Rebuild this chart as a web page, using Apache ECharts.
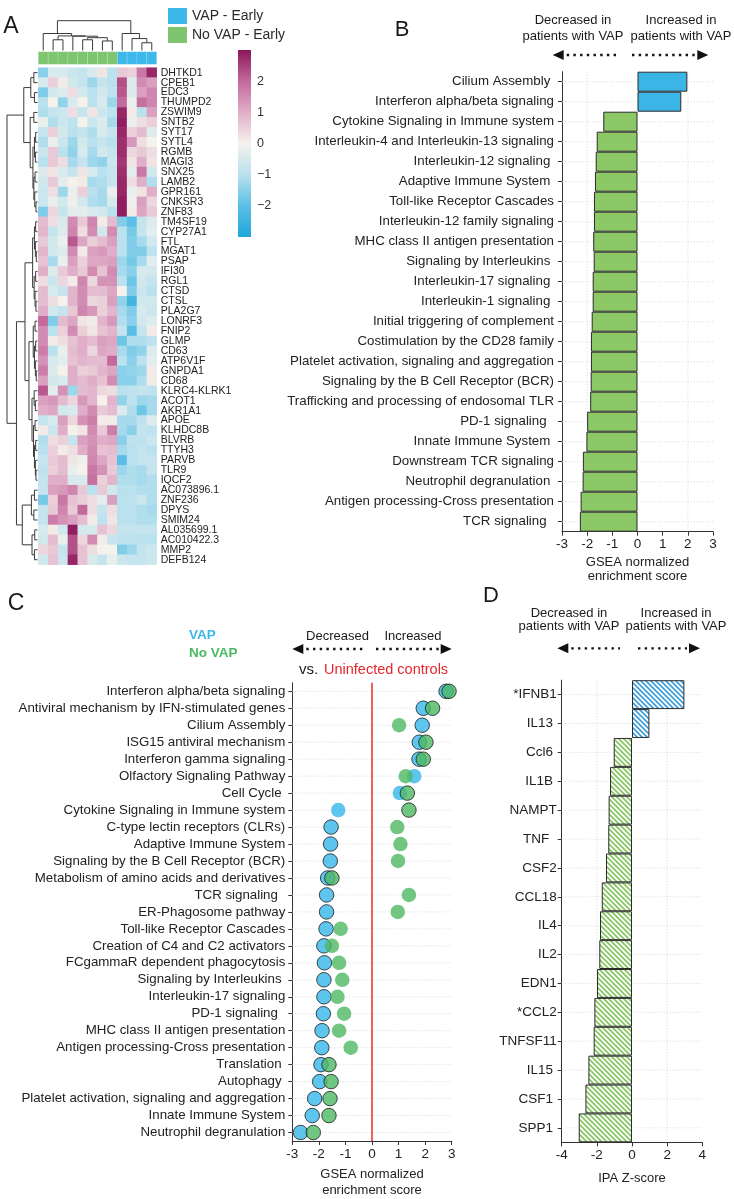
<!DOCTYPE html>
<html>
<head>
<meta charset="utf-8">
<title>VAP figure</title>
<script src="https://cdn.jsdelivr.net/npm/echarts@6/dist/echarts.min.js"></script>
<style>
html,body{margin:0;padding:0;background:#ffffff;}
#chart{width:734px;height:1199px;}
</style>
</head>
<body>
<div id="chart"></div>
<script>
// ================= Panel A: heatmap =================
const genes = ['DHTKD1','CPEB1','EDC3','THUMPD2','ZSWIM9','SNTB2','SYT17','SYTL4','RGMB','MAGI3','SNX25','LAMB2','GPR161','CNKSR3','ZNF83',
  'TM4SF19','CYP27A1','FTL','MGAT1','PSAP','IFI30','RGL1','CTSD','CTSL','PLA2G7','LONRF3','FNIP2','GLMP','CD63','ATP6V1F','GNPDA1','CD68',
  'KLRC4-KLRK1','ACOT1','AKR1A1','APOE','KLHDC8B','BLVRB','TTYH3','PARVB','TLR9','IQCF2',
  'AC073896.1','ZNF236','DPYS','SMIM24','AL035699.1','AC010422.3','MMP2','DEFB124'];
const samples = ['NV1','NV2','NV3','NV4','NV5','NV6','NV7','NV8','V1','V2','V3','V4'];
const sampleGroups = ['No VAP - Early','No VAP - Early','No VAP - Early','No VAP - Early','No VAP - Early','No VAP - Early','No VAP - Early','No VAP - Early',
  'VAP - Early','VAP - Early','VAP - Early','VAP - Early'];
const expression = [
  [-1.5,-0.5,-0.5,-0.7,-0.8,-0.5,0.2,-1.0,0.6,0.5,1.8,2.8],
  [-0.5,0.5,0.1,-0.6,-0.8,-1.3,-0.8,-1.0,2.3,-0.4,1.5,1.2],
  [-1.6,-0.6,-0.4,0.3,-0.6,-1.0,-0.6,-0.9,2.2,-0.4,1.2,1.6],
  [-1.0,0.0,-1.4,-0.5,0.0,-1.0,-0.5,-1.3,2.0,-0.2,1.9,1.6],
  [-1.1,-0.8,-0.7,0.3,-0.8,0.2,-0.7,-0.9,2.8,0.1,-1.0,1.2],
  [-0.2,-1.1,-0.7,-0.9,0.0,-0.7,-0.4,-1.2,2.9,-0.2,0.3,0.5],
  [-0.8,0.5,-0.6,-1.0,-0.8,-1.1,-0.5,-0.8,2.8,0.5,0.8,-0.4],
  [-1.1,-0.2,-0.7,-1.3,-0.6,-1.0,-0.8,-1.0,2.7,1.3,0.3,0.0],
  [-0.7,0.6,-1.0,-1.4,-0.5,-1.2,-0.6,-0.8,2.7,0.4,0.6,0.3],
  [-1.0,0.6,0.3,-1.2,-0.8,-1.3,-1.4,-0.7,2.6,0.2,1.0,0.2],
  [-0.4,0.2,-0.5,-0.8,0.2,-0.5,-1.0,-0.8,2.7,-0.3,1.8,-0.6],
  [-0.6,0.6,-0.3,0.0,0.1,-1.2,-1.1,-0.8,2.8,0.3,1.0,-1.1],
  [-0.7,0.3,-1.3,-0.2,0.5,-1.0,-1.2,-0.2,2.8,-0.2,0.2,1.0],
  [-0.7,-0.2,-0.6,-0.1,-0.6,-1.1,-1.2,-0.5,2.9,-0.1,1.2,0.4],
  [-1.6,0.4,-0.8,-0.3,-0.3,-0.5,-0.6,-1.0,2.9,0.1,1.1,0.6],
  [0.8,0.3,-0.5,1.5,0.6,1.6,0.1,0.8,-1.6,-2.0,-0.8,-0.4],
  [0.9,-0.8,-0.4,1.6,0.3,1.5,-0.6,1.5,-1.0,-1.7,-0.8,-0.3],
  [0.6,-0.6,-0.2,2.2,1.1,0.5,0.8,1.2,-1.0,-1.6,-1.2,-0.6],
  [0.9,-0.6,-0.4,1.5,0.1,1.2,1.3,1.0,-1.0,-1.6,-1.6,-0.9],
  [0.7,-1.2,-0.2,1.2,0.5,1.1,1.1,1.2,-1.3,-1.7,-1.2,-0.3],
  [1.0,-0.4,0.6,1.0,0.6,1.5,0.7,1.5,-1.2,-1.5,-0.5,-0.6],
  [0.3,-0.7,0.4,0.1,1.6,0.4,1.4,1.4,-1.0,-1.8,-0.6,-0.8],
  [0.8,-0.5,-0.8,0.9,1.5,0.8,0.8,1.1,0.0,-1.6,-0.7,-1.0],
  [0.8,0.3,0.0,0.9,1.5,0.4,0.5,1.2,-1.4,-2.4,-0.6,-0.6],
  [1.0,-0.6,-0.8,0.6,1.6,1.3,0.5,0.9,-1.2,-1.6,-0.5,-0.7],
  [2.0,-1.6,0.8,1.1,0.2,0.1,0.9,1.3,-1.1,-1.5,-0.6,-0.4],
  [1.5,-1.0,0.5,1.5,0.5,0.2,0.7,0.9,-0.8,-2.0,-0.8,0.1],
  [1.5,0.1,0.3,0.7,1.0,0.8,1.2,1.1,-1.8,-1.1,-1.1,-0.9],
  [1.7,-1.0,-0.2,0.8,1.0,0.4,1.1,1.0,-1.2,-1.6,-1.4,-0.4],
  [1.4,-0.5,-0.3,0.7,0.9,0.8,0.8,2.0,-1.0,-1.5,-1.0,-0.3],
  [1.7,-0.4,0.0,1.0,0.5,0.6,0.9,1.1,-1.5,-1.4,-1.3,0.1],
  [1.2,-0.6,-0.5,1.0,0.8,1.0,0.7,1.5,-1.5,-1.5,-1.1,0.1],
  [2.2,-0.3,1.4,-1.3,0.8,0.9,0.4,0.3,-1.0,-0.9,-0.8,-0.9],
  [1.2,1.3,0.8,0.4,1.3,0.9,0.0,0.9,-1.4,-0.9,-1.3,-1.2],
  [1.0,1.1,-0.6,-0.5,1.0,1.5,0.6,0.8,-0.4,-1.1,-1.8,-1.2],
  [-0.8,-0.5,1.2,0.4,1.4,1.7,0.1,0.1,-1.2,-1.2,-0.9,-0.4],
  [0.1,-0.7,1.0,0.0,0.2,1.5,0.6,1.7,-1.2,-1.5,-0.8,-0.9],
  [-1.1,0.3,0.5,-0.8,1.2,1.4,1.0,1.1,-1.5,-0.9,-0.9,-0.7],
  [-1.0,0.5,0.1,0.3,1.0,1.5,0.7,0.8,-1.2,-1.0,-0.8,-1.0],
  [-0.8,0.6,0.8,0.2,-0.1,1.6,1.1,0.7,-2.0,-1.0,-0.8,-0.8],
  [-0.9,0.5,0.8,-0.2,0.0,1.8,1.4,0.6,-1.3,-1.1,-1.2,-0.8],
  [-0.8,1.0,1.0,-0.5,-0.5,1.9,0.5,0.9,-1.1,-1.1,-1.2,-1.1],
  [-0.8,1.2,1.3,1.6,0.6,-1.0,0.6,-0.6,-1.0,-1.0,-1.1,-1.1],
  [-1.7,0.5,1.8,0.7,0.5,0.3,-0.3,1.2,-1.0,-0.9,-0.7,-1.1],
  [-0.8,0.6,1.6,0.6,2.0,0.3,-0.8,0.3,-1.0,-1.0,-1.1,-1.2],
  [-0.8,1.7,1.4,1.2,0.8,0.1,-0.9,0.2,-1.0,-1.0,-1.1,-1.1],
  [-0.5,0.1,-0.6,2.9,-0.6,-0.5,0.7,0.4,-0.8,-0.8,-0.8,-0.8],
  [-0.6,0.8,-0.2,2.3,0.4,1.5,0.1,-0.8,-0.9,-0.9,-1.0,-1.0],
  [0.4,0.6,-0.8,2.3,0.7,0.3,0.0,0.0,-1.6,-1.3,-0.8,-0.7],
  [-0.6,0.7,-0.7,2.8,0.7,-0.5,-0.8,-0.2,-0.7,-0.8,-0.8,-0.7]
];
// dendrograms: [mergeHeight, left, right]; integers are leaf indices
const columnTree = [1.0, [0.57, 0, [0.49, [0.36, 1, 2], [0.48, 3, [0.43, [0.36, 4, 5], [0.32, 6, 7]]]]], [0.57, 8, [0.40, 9, [0.26, 10, 11]]]];
const rowTree = [1.0,
  [0.45,
    [0.22, [0.12, 0, 1], [0.10, 2, 3]],
    [0.24, [0.12, 4, 5], [0.15, [0.10, [0.06, 6, 7], [0.07, 8, 9]], [0.12, [0.08, 10, 11], [0.09, 12, [0.05, 13, 14]]]]]],
  [0.69,
    [0.41,
      [0.16, [0.10, [0.06, 15, 16], [0.07, 17, [0.04, 18, 19]]], [0.11, [0.06, 20, 21], [0.08, 22, [0.05, 23, 24]]]],
      [0.28,
        [0.14, [0.08, 25, 26], [0.10, [0.06, 27, 28], [0.07, 29, [0.04, 30, 31]]]],
        [0.18, [0.11, 32, [0.07, 33, 34]], [0.13, [0.08, 35, 36], [0.10, [0.06, 37, 38], [0.07, 39, [0.05, 40, 41]]]]]]],
    [0.50, [0.20, [0.10, 42, 43], [0.12, 44, 45]], [0.18, [0.09, 46, 47], [0.10, 48, 49]]]]];
const colorbarTicks = [-2, -1, 0, 1, 2];

// ================= Panel B =================
const pathwaysB = ['Cilium Assembly ','Interferon alpha/beta signaling','Cytokine Signaling in Immune system','Interleukin-4 and Interleukin-13 signaling',
  'Interleukin-12 signaling ','Adaptive Immune System ','Toll-like Receptor Cascades','Interleukin-12 family signaling','MHC class II antigen presentation',
  'Signaling by Interleukins ','Interleukin-17 signaling ','Interleukin-1 signaling ','Initial triggering of complement','Costimulation by the CD28 family',
  'Platelet activation, signaling and aggregation','Signaling by the B Cell Receptor (BCR)','Trafficking and processing of endosomal TLR','PD-1 signaling  ',
  'Innate Immune System ','Downstream TCR signaling','Neutrophil degranulation ','Antigen processing-Cross presentation','TCR signaling  '];
const nesB = [1.98, 1.74, -1.36, -1.62, -1.66, -1.69, -1.73, -1.73, -1.76, -1.74, -1.78, -1.78, -1.82, -1.85, -1.85, -1.86, -1.88, -2.0, -2.03, -2.17, -2.18, -2.26, -2.29];

// ================= Panel C =================
const pathwaysC = ['Interferon alpha/beta signaling','Antiviral mechanism by IFN-stimulated genes','Cilium Assembly','ISG15 antiviral mechanism',
  'Interferon gamma signaling','Olfactory Signaling Pathway','Cell Cycle ','Cytokine Signaling in Immune system','C-type lectin receptors (CLRs)',
  'Adaptive Immune System','Signaling by the B Cell Receptor (BCR)','Metabolism of amino acids and derivatives','TCR signaling  ','ER-Phagosome pathway',
  'Toll-like Receptor Cascades','Creation of C4 and C2 activators','FCgammaR dependent phagocytosis','Signaling by Interleukins ','Interleukin-17 signaling',
  'PD-1 signaling  ','MHC class II antigen presentation','Antigen processing-Cross presentation','Translation ','Autophagy ',
  'Platelet activation, signaling and aggregation','Innate Immune System','Neutrophil degranulation'];
const nesVAP =   [2.79, 1.93, 1.89, 1.78, 1.77, 1.59, 1.05, -1.27, -1.54, -1.56, -1.57, -1.67, -1.71, -1.71, -1.73, -1.81, -1.79, -1.81, -1.81, -1.83, -1.88, -1.89, -1.92, -1.97, -2.16, -2.25, -2.69];
const nesNoVAP = [2.90, 2.28, 1.02, 2.03, 1.93, 1.27, 1.33, 1.39, 0.95, 1.07, 0.98, -1.51, 1.39, 0.97, -1.18, -1.51, -1.24, -1.12, -1.30, -1.05, -1.24, -0.80, -1.62, -1.54, -1.58, -1.62, -2.21];
const significantVAP =   [1,1,1,1,1,0,0,0,1,1,1,1,1,1,1,1,1,1,1,1,1,1,1,1,1,1,1];
const significantNoVAP = [1,1,0,1,1,0,1,1,0,0,0,1,0,0,0,0,0,0,0,0,0,0,1,1,1,1,1];

// ================= Panel D =================
const regulatorsD = ['*IFNB1','IL13 ','Ccl6 ','IL1B ','NAMPT','TNF  ','CSF2','CCL18','IL4','IL2','EDN1','*CCL2','TNFSF11','IL15 ','CSF1 ','SPP1 '];
const zScoreD = [2.98, 0.99, -1.04, -1.25, -1.33, -1.35, -1.48, -1.72, -1.82, -1.86, -1.99, -2.14, -2.18, -2.48, -2.65, -3.03];

// ================= styling =================
const FONT = '"Liberation Sans", Arial, Helvetica, sans-serif';
const TXT = '#222';
const AX = '#333';
const heatColors = ['#1FA6DA', '#5BBFE5', '#B9E1EE', '#F5F2EC', '#E0AEC8', '#C3699C', '#8C1659'];
const GROUP_COLORS = {'VAP - Early': '#3DB8EA', 'No VAP - Early': '#7DC56F'};
const B_UP = '#3BB4E6', B_DOWN = '#8CC866';
const C_VAP = '#35B6EA', C_NOVAP = '#4DB862';

function hatch(color) {
  const s = 5;
  const c = document.createElement('canvas');
  c.width = s; c.height = s;
  const g = c.getContext('2d');
  g.fillStyle = '#ffffff'; g.fillRect(0, 0, s, s);
  g.strokeStyle = color; g.lineWidth = 1.7;
  g.beginPath();
  g.moveTo(-1, -1); g.lineTo(s + 1, s + 1);
  g.moveTo(-1, s - 1); g.lineTo(1, s + 1);
  g.moveTo(s - 1, -1); g.lineTo(s + 1, 1);
  g.stroke();
  return {image: c, repeat: 'repeat'};
}

function dendroSegments(tree) {
  const segs = [];
  function walk(node) {
    if (typeof node === 'number') return {pos: node + 0.5, h: 0};
    const h = node[0];
    const A = walk(node[1]), B = walk(node[2]);
    segs.push([A.pos, A.h, A.pos, h]);
    segs.push([B.pos, B.h, B.pos, h]);
    segs.push([A.pos, h, B.pos, h]);
    return {pos: (A.pos + B.pos) / 2, h: h};
  }
  walk(tree);
  return segs;
}

function lineRender(style) {
  return function (params, api) {
    const a = api.coord([api.value(0), api.value(1)]);
    const b = api.coord([api.value(2), api.value(3)]);
    return {type: 'line', shape: {x1: a[0], y1: a[1], x2: b[0], y2: b[1]}, style: style};
  };
}

function hLineSeries(idx, cats) {
  return {
    type: 'custom', xAxisIndex: idx, yAxisIndex: idx, silent: true, z: 1,
    data: cats.map(c => [0, c]),
    encode: {x: 0, y: 1},
    renderItem: function (params, api) {
      const cs = params.coordSys;
      const y = api.coord([0, api.value(1)])[1];
      return {type: 'line', shape: {x1: cs.x, y1: y, x2: cs.x + cs.width, y2: y},
        style: {stroke: '#cfcfcf', lineWidth: 0.8, lineDash: [1, 2]}};
    }
  };
}
function vLineSeries(idx, xs, firstCat, style, z) {
  return {
    type: 'custom', xAxisIndex: idx, yAxisIndex: idx, silent: true, z: z,
    data: xs.map(x => [x, firstCat]),
    encode: {x: 0, y: 1},
    renderItem: function (params, api) {
      const cs = params.coordSys;
      const x = api.coord([api.value(0), 0])[0];
      return {type: 'line', shape: {x1: x, y1: cs.y, x2: x, y2: cs.y + cs.height}, style: style};
    }
  };
}

const faintV = {stroke: '#cfcfcf', lineWidth: 0.8, lineDash: [1, 2]};

function catAxis(idx, data, margin, fontSize) {
  return {gridIndex: idx, type: 'category', data: data, inverse: true,
    axisLine: {show: true, onZero: false, lineStyle: {color: AX, width: 1}},
    axisTick: {show: true, alignWithLabel: true, length: 4, lineStyle: {color: AX}},
    axisLabel: {fontSize: fontSize, color: TXT, margin: margin, fontFamily: FONT},
    splitLine: {show: false}};
}
function valAxis(idx, min, max, interval, name, nameGap, lineHeight) {
  return {gridIndex: idx, type: 'value', min: min, max: max, interval: interval,
    axisLine: {show: true, onZero: false, lineStyle: {color: AX, width: 1}},
    axisTick: {show: true, length: 4, lineStyle: {color: AX}},
    axisLabel: {fontSize: 13.5, color: TXT, margin: 6, fontFamily: FONT},
    splitLine: {show: false},
    name: name, nameLocation: 'middle', nameGap: nameGap,
    nameTextStyle: {fontSize: 13, color: TXT, lineHeight: lineHeight, fontFamily: FONT}};
}

function arrowGraphics(tipL, endL, startR, tipR, y) {
  const w = 11, hh = 5;
  const ds = {stroke: '#111', lineWidth: 2.3, lineDash: [2.4, 4.3]};
  return [
    {type: 'polygon', shape: {points: [[tipL, y], [tipL + w, y - hh], [tipL + w, y + hh]]}, style: {fill: '#111'}},
    {type: 'line', shape: {x1: tipL + w + 3, y1: y, x2: endL, y2: y}, style: ds},
    {type: 'line', shape: {x1: startR, y1: y, x2: tipR - w - 2, y2: y}, style: ds},
    {type: 'polygon', shape: {points: [[tipR, y], [tipR - w, y - hh], [tipR - w, y + hh]]}, style: {fill: '#111'}}
  ];
}
function txt(text, x, y, size, opts) {
  opts = opts || {};
  return {type: 'text', x: x, y: y, silent: true,
    style: {text: text, fontSize: size, fontFamily: FONT, fill: opts.fill || '#1a1a1a', fontWeight: opts.weight || 'normal',
      align: opts.align || 'center', verticalAlign: 'middle', lineHeight: opts.lineHeight || size * 1.2}};
}

// ================= build option =================
const heatData = [];
expression.forEach((row, i) => row.forEach((v, j) => heatData.push([j, i, v])));
const colSegs = dendroSegments(columnTree);
const rowSegs = dendroSegments(rowTree).map(s => [s[1], s[0], s[3], s[2]]);
const dendroStyle = {stroke: '#3a3a3a', lineWidth: 1};

const HM = {left: 38.3, top: 67.7, width: 118.4, height: 497};

const option = {
  animation: false,
  backgroundColor: '#ffffff',
  textStyle: {fontFamily: FONT},
  grid: [
    {left: HM.left, top: HM.top, width: HM.width, height: HM.height},          // 0 heatmap
    {left: HM.left, top: 51.7, width: HM.width, height: 12.6},                  // 1 annotation
    {left: HM.left, top: 20.7, width: HM.width, height: 29.8},                  // 2 column dendrogram
    {left: 7, top: HM.top, width: 30.5, height: HM.height},                     // 3 row dendrogram
    {left: 238, top: 50, width: 13, height: 187},                               // 4 colour bar
    {left: 562, top: 71.7, width: 151, height: 460},                            // 5 panel B
    {left: 292.3, top: 682.8, width: 159.4, height: 459},                       // 6 panel C
    {left: 561.7, top: 680.2, width: 140.6, height: 462.1}                      // 7 panel D
  ],
  xAxis: [
    {gridIndex: 0, type: 'category', data: samples, show: false},
    {gridIndex: 1, type: 'category', data: samples, show: false},
    {gridIndex: 2, type: 'value', min: 0, max: samples.length, show: false},
    {gridIndex: 3, type: 'value', min: 0, max: 1, inverse: true, show: false},
    {gridIndex: 4, type: 'value', min: 0, max: 1, show: false},
    valAxis(5, -3, 3, 1, 'GSEA normalized\nenrichment score', 24, 14),
    valAxis(6, -3, 3, 1, 'GSEA normalized\nenrichment score', 25, 16),
    valAxis(7, -4, 4, 2, 'IPA Z-score', 29, 14)
  ],
  yAxis: [
    {gridIndex: 0, type: 'category', data: genes, inverse: true, position: 'right',
      axisLine: {show: false}, axisTick: {show: false},
      axisLabel: {fontSize: 10.5, color: TXT, margin: 4, interval: 0, fontFamily: FONT}},
    {gridIndex: 1, type: 'category', data: ['group'], show: false},
    {gridIndex: 2, type: 'value', min: 0, max: 1, show: false},
    {gridIndex: 3, type: 'value', min: 0, max: genes.length, inverse: true, show: false},
    {gridIndex: 4, type: 'value', min: -3, max: 3, interval: 1, position: 'right',
      axisLine: {show: false}, axisTick: {show: false}, splitLine: {show: false},
      axisLabel: {fontSize: 12.5, color: '#333', margin: 6, fontFamily: FONT,
        formatter: v => colorbarTicks.indexOf(v) >= 0 ? String(v).replace('-', '\u2212') : ''}},
    catAxis(5, pathwaysB, 8, 13.3),
    catAxis(6, pathwaysC, 7, 13.3),
    catAxis(7, regulatorsD, 5, 13.5)
  ],
  visualMap: {type: 'continuous', min: -3, max: 3, show: false, seriesIndex: 0, dimension: 2,
    inRange: {color: heatColors}},
  legend: {left: 163, top: 3, orient: 'vertical', icon: 'rect', itemWidth: 19, itemHeight: 16, itemGap: 3,
    selectedMode: false, data: ['VAP - Early', 'No VAP - Early'],
    textStyle: {fontSize: 14, color: '#2a2a2a', fontFamily: FONT}},
  series: [
    {type: 'heatmap', xAxisIndex: 0, yAxisIndex: 0, data: heatData, progressive: 0,
      itemStyle: {borderWidth: 0}, emphasis: {disabled: true}},
    ...['VAP - Early', 'No VAP - Early'].map(g => ({
      type: 'custom', name: g, xAxisIndex: 1, yAxisIndex: 1,
      itemStyle: {color: GROUP_COLORS[g]},
      data: samples.map((s, j) => [j, 0, sampleGroups[j]]).filter(d => d[2] === g).map(d => [d[0], d[1]]),
      renderItem: function (params, api) {
        const c = api.coord([api.value(0), 0]);
        const sz = api.size([1, 1]);
        return {type: 'rect', shape: {x: c[0] - sz[0] / 2, y: c[1] - sz[1] / 2, width: sz[0], height: sz[1]},
          style: {fill: GROUP_COLORS[g], stroke: 'rgba(255,255,255,0.25)', lineWidth: 0.6}};
      }
    })),
    {type: 'custom', xAxisIndex: 2, yAxisIndex: 2, silent: true, data: colSegs,
      encode: {x: [0, 2], y: [1, 3]}, renderItem: lineRender(dendroStyle)},
    {type: 'custom', xAxisIndex: 3, yAxisIndex: 3, silent: true, data: rowSegs,
      encode: {x: [0, 2], y: [1, 3]}, renderItem: lineRender(dendroStyle)},
    {type: 'custom', xAxisIndex: 4, yAxisIndex: 4, silent: true, data: [[0, 0]],
      renderItem: function (params, api) {
        const a = api.coord([0, 3]), b = api.coord([1, -3]);
        const stops = heatColors.slice().reverse().map((c, i, arr) => ({offset: i / (arr.length - 1), color: c}));
        return {type: 'rect', shape: {x: a[0], y: a[1], width: b[0] - a[0], height: b[1] - a[1]},
          style: {fill: new echarts.graphic.LinearGradient(0, 0, 0, 1, stops)}};
      }},
    // Panel B
    hLineSeries(5, pathwaysB),
    vLineSeries(5, [-2, 2], pathwaysB[0], faintV, 1),
    {type: 'bar', xAxisIndex: 5, yAxisIndex: 5, barCategoryGap: '0%', silent: true, z: 3,
      itemStyle: {borderColor: '#2b2b2b', borderWidth: 1},
      data: nesB.map(v => ({value: v, itemStyle: {color: v >= 0 ? B_UP : B_DOWN}}))},
    // Panel C
    hLineSeries(6, pathwaysC),
    vLineSeries(6, [0], pathwaysC[0], {stroke: '#EC3A32', lineWidth: 1.6}, 2),
    {type: 'scatter', name: 'VAP', xAxisIndex: 6, yAxisIndex: 6, symbolSize: 14.5, z: 3, silent: true,
      data: nesVAP.map((v, i) => ({value: [v, pathwaysC[i]],
        itemStyle: {color: C_VAP, borderColor: significantVAP[i] ? '#1e1e1e' : C_VAP, borderWidth: significantVAP[i] ? 1 : 0}}))},
    {type: 'scatter', name: 'No VAP', xAxisIndex: 6, yAxisIndex: 6, symbolSize: 14.5, z: 4, silent: true,
      data: nesNoVAP.map((v, i) => ({value: [v, pathwaysC[i]],
        itemStyle: {color: C_NOVAP, borderColor: significantNoVAP[i] ? '#1e1e1e' : C_NOVAP, borderWidth: significantNoVAP[i] ? 1 : 0}}))},
    // Panel D
    hLineSeries(7, regulatorsD),
    vLineSeries(7, [-2, 2], regulatorsD[0], faintV, 1),
    {type: 'bar', xAxisIndex: 7, yAxisIndex: 7, barCategoryGap: '0%', silent: true, z: 3,
      itemStyle: {borderColor: '#2b2b2b', borderWidth: 1},
      data: zScoreD.map(v => ({value: v, itemStyle: {color: v >= 0 ? hatch('#3F9EDB') : hatch('#86C763')}}))}
  ],
  graphic: [
    txt('A', 11, 27, 23),
    txt('B', 402, 30, 22),
    txt('C', 16, 604, 23),
    txt('D', 491, 596, 22),
    txt('Decreased in\npatients with VAP', 573, 28.5, 13, {lineHeight: 15.4}),
    txt('Increased in\npatients with VAP', 681, 28.5, 13, {lineHeight: 15.4}),
    ...arrowGraphics(552.7, 617, 632, 708.3, 55),
    txt('VAP', 189, 635.7, 13.5, {align: 'left', weight: 'bold', fill: '#3BB7EA'}),
    txt('No VAP', 189, 653.3, 13.5, {align: 'left', weight: 'bold', fill: '#4DB862'}),
    txt('Decreased', 337.5, 636, 13),
    txt('Increased', 413, 636, 13),
    ...arrowGraphics(292.3, 366, 376, 451.7, 649),
    txt('vs.', 299, 670, 15, {align: 'left'}),
    txt('Uninfected controls', 324, 670, 14.5, {align: 'left', fill: '#E8262B'}),
    txt('Decreased in\npatients with VAP', 569, 620, 13, {lineHeight: 13.6}),
    txt('Increased in\npatients with VAP', 676, 620, 13, {lineHeight: 13.6}),
    ...arrowGraphics(557.3, 620, 638, 700, 648.3)
  ]
};

const chart = echarts.init(document.getElementById('chart'), null, {renderer: 'canvas'});
chart.setOption(option);
</script>
</body>
</html>
